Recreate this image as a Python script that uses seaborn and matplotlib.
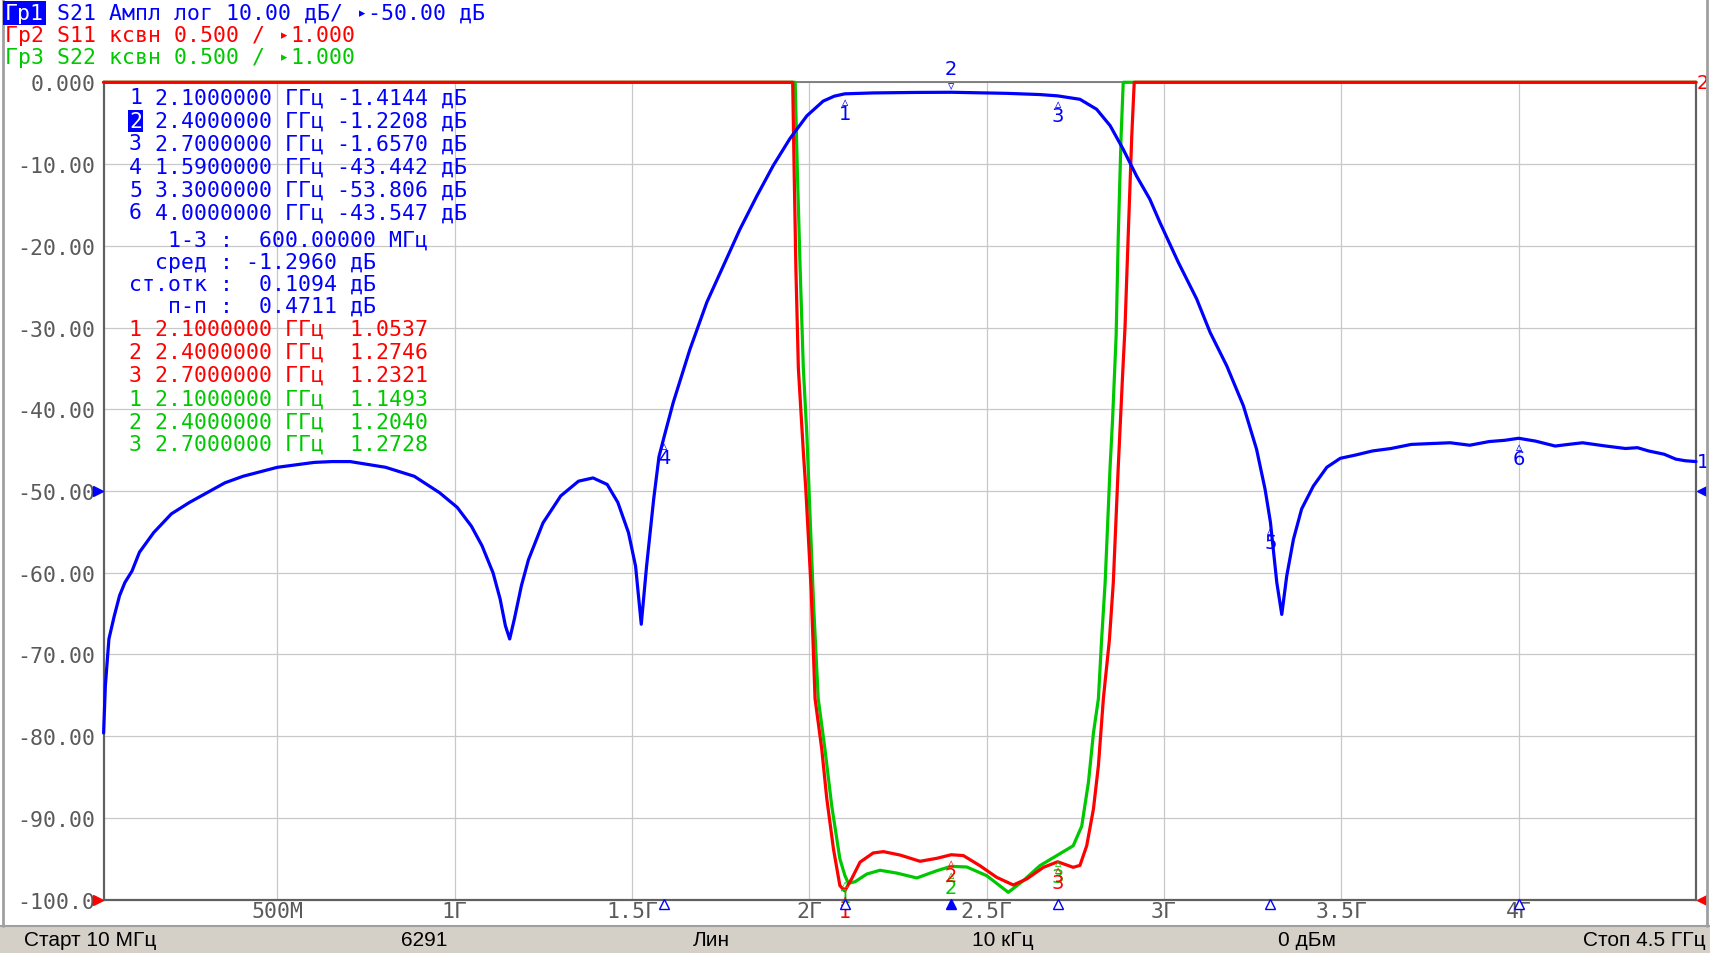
# ==== IMPORT LIBRARIES ====
import numpy as np
import pandas as pd
import matplotlib
matplotlib.use("Agg")
import matplotlib.pyplot as plt
import seaborn as sns
from matplotlib.lines import Line2D
from matplotlib.patches import Rectangle

# ==== DATA ====
# S21, dB (frequency in GHz)
s21_freq = [0.010, 0.015, 0.025, 0.040, 0.055, 0.070, 0.090, 0.111, 0.151, 0.201,
            0.252, 0.302, 0.352, 0.403, 0.500, 0.604, 0.654, 0.705, 0.805, 0.886,
            0.957, 1.007, 1.047, 1.077, 1.108, 1.128, 1.143, 1.155, 1.168, 1.188,
            1.208, 1.249, 1.299, 1.349, 1.390, 1.430, 1.460, 1.490, 1.510, 1.526,
            1.541, 1.561, 1.576, 1.590, 1.616, 1.663, 1.711, 1.757, 1.804, 1.852,
            1.898, 1.945, 1.993, 2.039, 2.070, 2.100, 2.180, 2.300, 2.400, 2.556,
            2.650, 2.700, 2.763, 2.810, 2.848, 2.885, 2.923, 2.960, 2.989, 3.040,
            3.092, 3.130, 3.177, 3.224, 3.261, 3.285, 3.300, 3.318, 3.332, 3.346,
            3.365, 3.388, 3.421, 3.459, 3.497, 3.540, 3.588, 3.640, 3.697, 3.750,
            3.807, 3.862, 3.917, 3.960, 4.000, 4.048, 4.103, 4.140, 4.180, 4.246,
            4.301, 4.335, 4.366, 4.410, 4.443, 4.470, 4.500]
s21_db = [-79.6, -73.8, -68.1, -65.3, -62.8, -61.2, -59.8, -57.5, -55.1, -52.8,
          -51.4, -50.2, -49.0, -48.2, -47.1, -46.5, -46.4, -46.4, -47.1, -48.2,
          -50.2, -52.0, -54.3, -56.7, -60.0, -63.2, -66.5, -68.1, -65.7, -61.6,
          -58.4, -53.9, -50.6, -48.8, -48.4, -49.2, -51.4, -55.1, -59.2, -66.3,
          -59.2, -51.0, -45.8, -43.44, -39.2, -32.7, -26.9, -22.5, -18.0, -13.9,
          -10.2, -6.9, -4.1, -2.3, -1.7, -1.41, -1.30, -1.24, -1.22, -1.35,
          -1.50, -1.66, -2.08, -3.3, -5.3, -8.2, -11.5, -14.3, -17.2, -22.0,
          -26.5, -30.6, -34.7, -39.6, -44.9, -49.8, -53.8, -61.2, -65.1, -60.4,
          -55.9, -52.2, -49.4, -47.1, -46.0, -45.6, -45.1, -44.8, -44.3, -44.2,
          -44.1, -44.4, -43.95, -43.8, -43.55, -43.9, -44.5, -44.3, -44.1, -44.5,
          -44.8, -44.7, -45.1, -45.5, -46.1, -46.3, -46.4]

# S11, VSWR (screen top = 6.0)
s11_freq = [0.010, 1.953, 1.957, 1.962, 1.969, 1.983, 1.990, 2.005, 2.016, 2.035,
            2.049, 2.068, 2.086, 2.100, 2.119, 2.143, 2.180, 2.209, 2.256, 2.312,
            2.359, 2.400, 2.434, 2.481, 2.528, 2.575, 2.613, 2.660, 2.700, 2.744,
            2.763, 2.782, 2.801, 2.815, 2.829, 2.846, 2.857, 2.871, 2.883, 2.890,
            2.899, 2.909, 2.916, 4.500]
s11_vswr = [6.0, 6.0, 5.47, 4.86, 4.25, 3.74, 3.51, 2.90, 2.23, 1.92,
            1.62, 1.31, 1.086, 1.054, 1.127, 1.23, 1.286, 1.294, 1.273, 1.235,
            1.253, 1.275, 1.27, 1.208, 1.137, 1.09, 1.127, 1.198, 1.232, 1.198,
            1.21, 1.33, 1.555, 1.82, 2.23, 2.59, 2.94, 3.65, 4.2, 4.5,
            5.06, 5.67, 6.0, 6.0]

# S22, VSWR
s22_freq = [0.010, 1.960, 1.966, 1.974, 1.983, 1.993, 1.999, 2.012, 2.025, 2.044,
            2.063, 2.086, 2.100, 2.110, 2.129, 2.162, 2.199, 2.246, 2.303, 2.359,
            2.400, 2.444, 2.500, 2.561, 2.603, 2.650, 2.700, 2.744, 2.768, 2.787,
            2.801, 2.815, 2.824, 2.834, 2.848, 2.855, 2.865, 2.871, 2.879, 2.885,
            4.500]
s22_vswr = [6.0, 6.0, 5.47, 4.86, 4.25, 3.84, 3.51, 2.80, 2.23, 1.92,
            1.575, 1.25, 1.149, 1.10, 1.11, 1.157, 1.18, 1.163, 1.133, 1.177,
            1.204, 1.20, 1.147, 1.045, 1.116, 1.208, 1.273, 1.33, 1.45, 1.72,
            2.02, 2.23, 2.59, 2.94, 3.65, 3.94, 4.45, 5.06, 5.67, 6.0,
            6.0]

# markers
s21_mk_num = [1, 2, 3, 4, 5, 6]
s21_mk_freq = [2.1, 2.4, 2.7, 1.59, 3.3, 4.0]
s21_mk_val = [-1.4144, -1.2208, -1.6570, -43.442, -53.806, -43.547]
s11_mk_freq = [2.1, 2.4, 2.7]
s11_mk_val = [1.0537, 1.2746, 1.2321]
s22_mk_freq = [2.1, 2.4, 2.7]
s22_mk_val = [1.1493, 1.2040, 1.2728]

x_ticks = [0.5, 1.0, 1.5, 2.0, 2.5, 3.0, 3.5, 4.0]
x_tick_labels = ["500M", "1Г", "1.5Г", "2Г", "2.5Г", "3Г", "3.5Г", "4Г"]
y_ticks = list(range(-100, 1, 10))
y_tick_labels = ["-100.0", "-90.00", "-80.00", "-70.00", "-60.00", "-50.00",
                 "-40.00", "-30.00", "-20.00", "-10.00", "0.000"]
status_labels = ["Старт 10 МГц", "6291", "Лин", "10 кГц", "0 дБм", "Стоп 4.5 ГГц"]

BLUE = "#0000ff"
RED = "#ff0000"
GREEN = "#00c800"
GRAY = "#5a5a5a"
W, H = 1710, 954

sns.set_theme(style="white")
plt.rcParams['font.family'] = ['DejaVu Sans Mono', 'DejaVu Sans']
MONO = 15.5
CW = MONO * 100 / 72 * 0.602  # monospace char width, px

df21 = pd.DataFrame({"f": s21_freq, "v": s21_db})
df11 = pd.DataFrame({"f": s11_freq, "v": s11_vswr})
df22 = pd.DataFrame({"f": s22_freq, "v": s22_vswr})

fig = plt.figure(figsize=(W / 100, H / 100), dpi=100)
fig.patch.set_facecolor("white")


def fx(x):
    return x / W


def fy(y):
    return 1 - y / H


def mono(x, y, s, col, **kw):
    fig.text(fx(x), fy(y), s, color=col, fontsize=MONO, ha="left", va="center", **kw)


left, right, top, bottom = 103.6, 1696, 83.3, 900.7
ax_v = fig.add_axes([fx(left), fy(bottom), (right - left) / W, (bottom - top) / H])
ax = ax_v.twinx()

# ==== VSWR axes (bottom layer, grid) ====
ax_v.set_facecolor("white")
ax_v.set_xlim(0.01, 4.5)
ax_v.set_ylim(1, 6)
ax_v.set_xticks(x_ticks)
ax_v.set_xticklabels(x_tick_labels)
ax_v.set_yticks(np.arange(1, 6.01, 0.5))
ax_v.yaxis.tick_right()
ax_v.tick_params(axis="y", length=0, labelright=False, labelleft=False)
ax_v.tick_params(axis="x", length=0, pad=1, labelsize=MONO, labelcolor=GRAY)
ax_v.grid(True, color="#c8c8c8", lw=0.9)
for s in ["left", "bottom", "right"]:
    ax_v.spines[s].set_color("#606060")
    ax_v.spines[s].set_linewidth(1.6)
ax_v.spines["top"].set_color("#808080")
ax_v.spines["top"].set_linewidth(1.4)

sns.lineplot(data=df22, x="f", y="v", ax=ax_v, color=GREEN, linewidth=2.3,
             sort=False, estimator=None, clip_on=False, zorder=3)
sns.lineplot(data=df11, x="f", y="v", ax=ax_v, color=RED, linewidth=2.3,
             sort=False, estimator=None, clip_on=False, zorder=3)
ax_v.set_xlabel("")
ax_v.set_ylabel("")

# ==== dB axes (top layer) ====
ax.set_ylim(-100, 0)
ax.yaxis.tick_left()
ax.set_yticks(y_ticks)
ax.set_yticklabels(y_tick_labels)
ax.tick_params(axis="y", length=0, pad=6, labelsize=MONO, labelcolor=GRAY)
for s in ax.spines.values():
    s.set_visible(False)
sns.lineplot(data=df21, x="f", y="v", ax=ax, color=BLUE, linewidth=2.3,
             sort=False, estimator=None, clip_on=False, zorder=4)
ax.set_xlabel("")
ax.set_ylabel("")
ax.set_xlim(0.01, 4.5)

# marker symbols on traces
for n, f, v in zip(s21_mk_num, s21_mk_freq, s21_mk_val):
    sym, d1, d2 = ("▿", 7, 24) if n == 2 else ("▵", -8, -20)
    ax.annotate(sym, (f, v), xytext=(0, d1), textcoords="offset pixels",
                ha="center", va="center", color=BLUE, fontsize=9,
                family="DejaVu Sans", annotation_clip=False)
    ax.annotate(str(n), (f, v), xytext=(0, d2), textcoords="offset pixels",
                ha="center", va="center", color=BLUE, fontsize=14,
                family="DejaVu Sans", annotation_clip=False)

for vals, col in [(s22_mk_val, GREEN), (s11_mk_val, RED)]:
    for n, (f, v) in enumerate(zip(s11_mk_freq, vals), start=1):
        ax_v.annotate("▵", (f, v), xytext=(0, -8), textcoords="offset pixels",
                      ha="center", va="center", color=col, fontsize=9,
                      family="DejaVu Sans", annotation_clip=False, zorder=5)
        ax_v.annotate(str(n), (f, v), xytext=(0, -21), textcoords="offset pixels",
                      ha="center", va="center", color=col, fontsize=14,
                      family="DejaVu Sans", annotation_clip=False, zorder=5)

# stimulus-axis marker triangles
for n, f in zip(s21_mk_num, s21_mk_freq):
    ax.plot([f], [-100.5], marker="^", ms=7, mew=1.0, color=BLUE,
            mfc=BLUE if n == 2 else "white", clip_on=False, zorder=6)

# reference level arrows
yt = ax.get_yaxis_transform()
ax.plot([-0.0035], [-50], marker=">", ms=7, color=BLUE, transform=yt, clip_on=False)
ax.plot([1.0035], [-50], marker="<", ms=7, color=BLUE, transform=yt, clip_on=False)
ax.plot([-0.0035], [-100], marker=">", ms=7, color=RED, transform=yt, clip_on=False)
ax.plot([1.0035], [-100], marker="<", ms=7, color=RED, transform=yt, clip_on=False)

# trace end labels
ax.annotate("1", (s21_freq[-1], s21_db[-1]), xytext=(7, 0), textcoords="offset pixels",
            ha="center", va="center", color=BLUE, fontsize=14, family="DejaVu Sans",
            annotation_clip=False)
ax_v.annotate("2", (s11_freq[-1], s11_vswr[-1]), xytext=(7, 0), textcoords="offset pixels",
              ha="center", va="center", color=RED, fontsize=14, family="DejaVu Sans",
              annotation_clip=False)

# ==== HEADER ====
hx = 5
mono(hx, 14, "Гр1", "white",
     bbox=dict(boxstyle="square,pad=0.08", facecolor=BLUE, edgecolor="none"))
mono(hx + 4 * CW, 14, "S21 Ампл лог 10.00 дБ/", BLUE)
mono(hx + 28 * CW, 14, "-50.00 дБ", BLUE)
mono(hx, 36, "Гр2 S11 ксвн 0.500 /", RED)
mono(hx + 22 * CW, 36, "1.000", RED)
mono(hx, 58, "Гр3 S22 ксвн 0.500 /", GREEN)
mono(hx + 22 * CW, 58, "1.000", GREEN)
for col_idx, y, col in [(27, 14, BLUE), (21, 36, RED), (21, 58, GREEN)]:
    fig.text(fx(hx + col_idx * CW + CW * 0.55), fy(y), "▸", color=col, fontsize=9,
             ha="center", va="center", family="DejaVu Sans")

# ==== MARKER TABLE ====
x0 = 129
row_y = [98.3, 121.7, 144.3, 167.7, 190.7, 213.3]
for y, n, f, v in zip(row_y, s21_mk_num, s21_mk_freq, s21_mk_val):
    val = f"{v:.4f}" if abs(v) < 10 else f"{v:.3f}"
    if n == 2:
        mono(x0, y, "2", "white",
             bbox=dict(boxstyle="square,pad=0.05", facecolor=BLUE, edgecolor="none"))
    else:
        mono(x0, y, str(n), BLUE)
    mono(x0 + 2 * CW, y, f"{f:.7f} ГГц {val} дБ", BLUE)

stats = [(3, "1-3 :  600.00000 МГц"), (2, "сред : -1.2960 дБ"),
         (0, "ст.отк :  0.1094 дБ"), (3, "п-п :  0.4711 дБ")]
for y, (c, s) in zip([241, 263, 285, 306.7], stats):
    mono(x0 + c * CW, y, s, BLUE)

for ys, vals, col in [([329.3, 352.3, 375.7], s11_mk_val, RED),
                      ([399.3, 422.3, 445], s22_mk_val, GREEN)]:
    for n, (y, f, v) in enumerate(zip(ys, s11_mk_freq, vals), start=1):
        mono(x0, y, f"{n} {f:.7f} ГГц {v:7.4f}", col)

# ==== WINDOW FRAME AND STATUS BAR ====
fig.add_artist(Line2D([fx(2.5), fx(2.5)], [fy(927), 1], color="#a0a0a0", lw=2))
fig.add_artist(Line2D([fx(1706.5), fx(1706.5)], [fy(927), 1], color="#a0a0a0", lw=2))
fig.patches.append(Rectangle((0, 0), 1, 27 / H, transform=fig.transFigure,
                             facecolor="#d4d0c8", edgecolor="none", zorder=0))
fig.add_artist(Line2D([0, 1], [fy(927), fy(927)], color="#a0a0a0", lw=1.5))

status_x = [24, 424, 711, 1003, 1307, 1706]
status_ha = ["left", "center", "center", "center", "center", "right"]
for x, s, ha in zip(status_x, status_labels, status_ha):
    fig.text(fx(x), fy(941), s, color="black", fontsize=15, ha=ha, va="center",
             family=["Liberation Sans Narrow", "Liberation Sans", "DejaVu Sans"])

plt.savefig("out.png", dpi=100)
